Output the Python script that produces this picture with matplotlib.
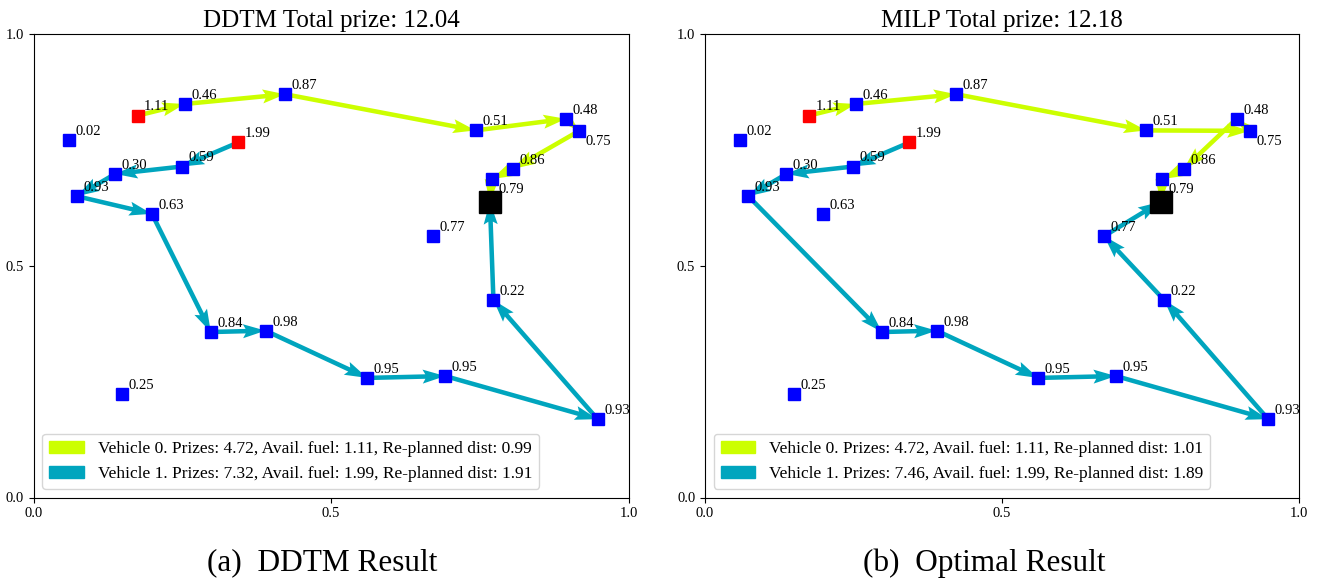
import matplotlib
matplotlib.use("Agg")
import matplotlib.pyplot as plt
from matplotlib.patches import Patch

plt.rcParams["font.family"] = ["Liberation Serif", "DejaVu Serif"]

# customer nodes (same in both panels)
node_x = [0.059, 0.254, 0.423, 0.743, 0.895, 0.917, 0.806, 0.770, 0.672, 0.249,
          0.137, 0.073, 0.199, 0.773, 0.298, 0.390, 0.561, 0.692, 0.948, 0.149]
node_y = [0.772, 0.849, 0.870, 0.792, 0.817, 0.791, 0.709, 0.687, 0.564, 0.714,
          0.698, 0.650, 0.612, 0.426, 0.357, 0.360, 0.258, 0.262, 0.169, 0.224]
prizes = ["0.02", "0.46", "0.87", "0.51", "0.48", "0.75", "0.86", "0.79", "0.77", "0.59",
          "0.30", "0.93", "0.63", "0.22", "0.84", "0.98", "0.95", "0.95", "0.93", "0.25"]
label_below = [5, 7]

# vehicle start positions and available fuel
start_x = [0.175, 0.344]
start_y = [0.824, 0.766]
fuel = ["1.11", "1.99"]

depot_x = 0.767
depot_y = 0.638

ddtm_routes = [
    [1, 2, 3, 4, 5, 6, 7],
    [9, 10, 11, 12, 14, 15, 16, 17, 18, 13],
]
milp_routes = [
    [1, 2, 3, 5, 4, 6, 7],
    [9, 10, 11, 14, 15, 16, 17, 18, 13, 8],
]

ddtm_legend = [
    "Vehicle 0. Prizes: 4.72, Avail. fuel: 1.11, Re-planned dist: 0.99",
    "Vehicle 1. Prizes: 7.32, Avail. fuel: 1.99, Re-planned dist: 1.91",
]
milp_legend = [
    "Vehicle 0. Prizes: 4.72, Avail. fuel: 1.11, Re-planned dist: 1.01",
    "Vehicle 1. Prizes: 7.46, Avail. fuel: 1.99, Re-planned dist: 1.89",
]

colors = ["#CCFF00", "#00A5BE"]


def draw_panel(ax, routes, legend_labels, title):

    for v, route in enumerate(routes):

        xs = [start_x[v]] + [node_x[i] for i in route] + [depot_x]
        ys = [start_y[v]] + [node_y[i] for i in route] + [depot_y]

        u = [xs[k + 1] - xs[k] for k in range(len(xs) - 1)]
        w = [ys[k + 1] - ys[k] for k in range(len(ys) - 1)]

        ax.quiver(
            xs[:-1], ys[:-1], u, w,
            angles="xy", scale_units="xy", scale=1,
            color=colors[v],
            width=0.0076,
            headwidth=3.1,
            headlength=5.0,
            headaxislength=4.4,
            zorder=2
        )

    ax.plot(node_x, node_y, "s", color="#0000FF", markersize=8, zorder=3)
    ax.plot(start_x, start_y, "s", color="#FF0000", markersize=8, zorder=3)
    ax.plot(depot_x, depot_y, "s", color="black", markersize=16, zorder=3)

    for i, p in enumerate(prizes):
        if i in label_below:
            ax.text(node_x[i] + 0.011, node_y[i] - 0.03, p, fontsize=10.5, zorder=4)
        else:
            ax.text(node_x[i] + 0.011, node_y[i] + 0.011, p, fontsize=10.5, zorder=4)

    for v in range(2):
        ax.text(start_x[v] + 0.011, start_y[v] + 0.011, fuel[v], fontsize=10.5, zorder=4)

    handles = [Patch(color=colors[v], label=legend_labels[v]) for v in range(2)]

    ax.legend(handles=handles, loc="lower left", fontsize=12.5)

    ax.set_xlim(0, 1)
    ax.set_ylim(0, 1)
    ax.set_xticks([0, 0.5, 1])
    ax.set_yticks([0, 0.5, 1])
    ax.set_xticklabels(["0.0", "0.5", "1.0"])
    ax.set_yticklabels(["0.0", "0.5", "1.0"])
    ax.tick_params(labelsize=10.5)
    ax.set_title(title, fontsize=18, pad=5)


fig = plt.figure(figsize=(13.2, 5.81), dpi=100)

ax1 = fig.add_axes([33.5 / 1320, 83.5 / 581, 595 / 1320, 463.5 / 581])
ax2 = fig.add_axes([705 / 1320, 83.5 / 581, 594 / 1320, 463.5 / 581])

draw_panel(ax1, ddtm_routes, ddtm_legend, "DDTM Total prize: 12.04")
draw_panel(ax2, milp_routes, milp_legend, "MILP Total prize: 12.18")

fig.text(322 / 1320, 18 / 581, "(a)  DDTM Result", fontsize=22.5, ha="center", va="center")
fig.text(984 / 1320, 18 / 581, "(b)  Optimal Result", fontsize=22.5, ha="center", va="center")

fig.savefig("out.png", dpi=100)
